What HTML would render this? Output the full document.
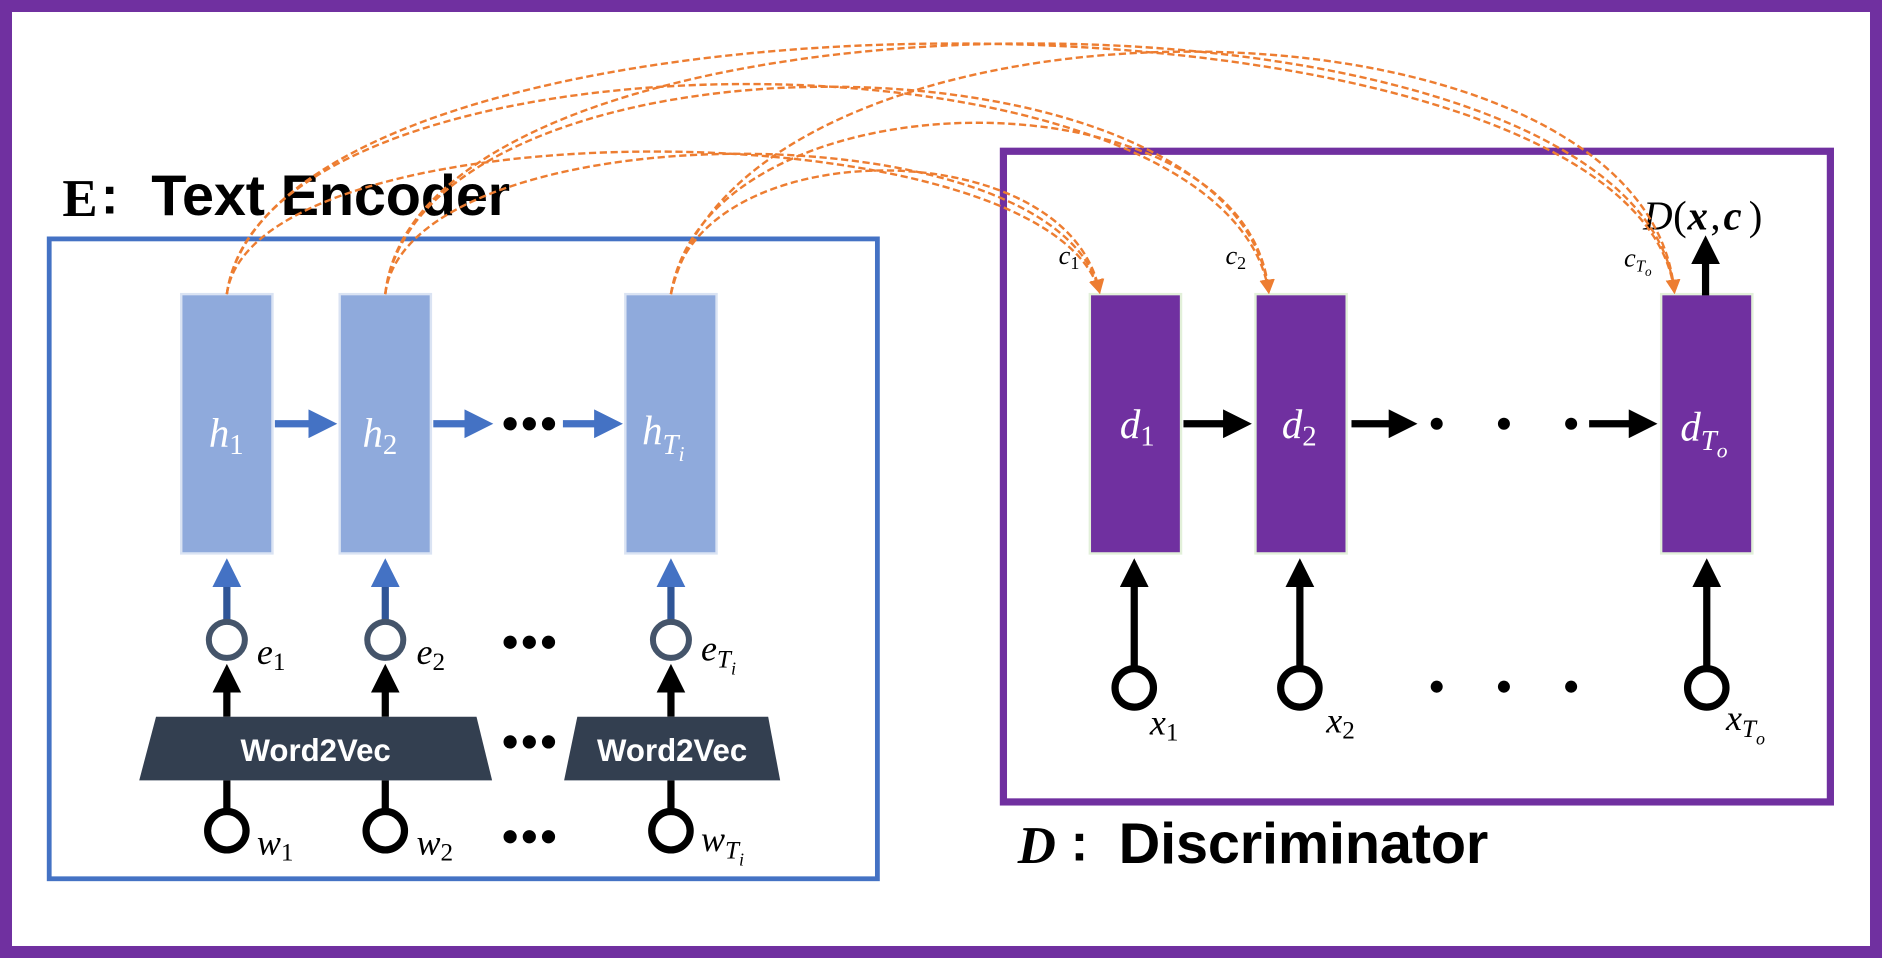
<!DOCTYPE html>
<html><head><meta charset="utf-8"><style>html,body{margin:0;padding:0;background:#fff}svg{display:block}</style></head><body>
<svg width="1882" height="958" viewBox="0 0 1568 798" preserveAspectRatio="none" xmlns="http://www.w3.org/2000/svg">
<defs>
<marker id="ab" markerWidth="4" markerHeight="4" refX="2.5" refY="2" orient="auto"><path d="M0,0 L4,2 L0,4 z" fill="#4472C4"/></marker>
<marker id="abk" markerWidth="4" markerHeight="4" refX="2.5" refY="2" orient="auto"><path d="M0,0 L4,2 L0,4 z" fill="#000"/></marker>
<marker id="ao" markerWidth="6" markerHeight="6" refX="5" refY="3" orient="auto"><path d="M0,0 L6,3 L0,6 z" fill="#ED7D31"/></marker>
</defs>
<rect x="5" y="5" width="1558" height="788" fill="#fff" stroke="#7030A0" stroke-width="10"/>
<rect x="41" y="199" width="690" height="533" fill="none" stroke="#4472C4" stroke-width="4"/>
<rect x="836" y="126" width="689" height="542" fill="none" stroke="#7030A0" stroke-width="6"/>
<text x="52" y="180" font-family="Liberation Serif,serif" font-weight="bold" font-size="44">E</text>
<text x="84" y="178" font-family="Liberation Sans,sans-serif" font-weight="bold" font-size="44">:</text>
<text x="126" y="179" font-family="Liberation Sans,sans-serif" font-weight="bold" font-size="48" textLength="299">Text Encoder</text>
<text x="848" y="719" font-family="Liberation Serif,serif" font-style="italic" font-weight="bold" font-size="44">D</text>
<text x="892" y="717" font-family="Liberation Sans,sans-serif" font-weight="bold" font-size="44">:</text>
<text x="932" y="719" font-family="Liberation Sans,sans-serif" font-weight="bold" font-size="48" textLength="308">Discriminator</text>
<g fill="#8FAADC" stroke="#DAE3F3" stroke-width="2">
<rect x="151" y="245" width="76" height="216"/><rect x="283" y="245" width="76" height="216"/><rect x="521" y="245" width="76" height="216"/></g>
<g fill="#fff" font-family="Liberation Serif,serif" font-style="italic" font-size="34">
<text x="174" y="372">h<tspan font-size="24" font-style="normal" dy="6">1</tspan></text>
<text x="302" y="372">h<tspan font-size="24" font-style="normal" dy="6">2</tspan></text>
<text x="535" y="370">h<tspan font-size="24" dy="8">T</tspan><tspan font-size="18" dy="6">i</tspan></text></g>
<g stroke="#4472C4" stroke-width="6" marker-end="url(#ab)">
<line x1="229" y1="353" x2="272" y2="353"/><line x1="361" y1="353" x2="402" y2="353"/><line x1="469" y1="353" x2="510" y2="353"/></g>
<g stroke="#2F5597" stroke-width="6" marker-end="url(#ab)">
<line x1="189" y1="516" x2="189" y2="474"/><line x1="321" y1="516" x2="321" y2="474"/><line x1="559" y1="516" x2="559" y2="474"/></g>
<g fill="#000"><circle cx="425" cy="353" r="5.5"/><circle cx="441" cy="353" r="5.5"/><circle cx="457" cy="353" r="5.5"/>
<circle cx="425" cy="535" r="5.5"/><circle cx="441" cy="535" r="5.5"/><circle cx="457" cy="535" r="5.5"/>
<circle cx="425" cy="618" r="5.5"/><circle cx="441" cy="618" r="5.5"/><circle cx="457" cy="618" r="5.5"/>
<circle cx="425" cy="697" r="5.5"/><circle cx="441" cy="697" r="5.5"/><circle cx="457" cy="697" r="5.5"/></g>
<g fill="#fff" stroke="#44546A" stroke-width="5"><circle cx="189" cy="533" r="15"/><circle cx="321" cy="533" r="15"/><circle cx="559" cy="533" r="15"/></g>
<g font-family="Liberation Serif,serif" font-style="italic" font-size="30">
<text x="214" y="553">e<tspan font-size="21" font-style="normal" dy="5">1</tspan></text>
<text x="347" y="553">e<tspan font-size="21" font-style="normal" dy="5">2</tspan></text>
<text x="584" y="550">e<tspan font-size="21" dy="6">T</tspan><tspan font-size="15" dy="6">i</tspan></text>
<text x="214" y="712">w<tspan font-size="21" font-style="normal" dy="5">1</tspan></text>
<text x="347" y="712">w<tspan font-size="21" font-style="normal" dy="5">2</tspan></text>
<text x="584" y="709">w<tspan font-size="21" dy="6">T</tspan><tspan font-size="15" dy="6">i</tspan></text></g>
<g stroke="#000" stroke-width="6" marker-end="url(#abk)">
<line x1="189" y1="597" x2="189" y2="562"/><line x1="321" y1="597" x2="321" y2="562"/><line x1="559" y1="597" x2="559" y2="562"/></g>
<g stroke="#000" stroke-width="6"><line x1="189" y1="676" x2="189" y2="650"/><line x1="321" y1="676" x2="321" y2="650"/><line x1="559" y1="676" x2="559" y2="650"/></g>
<path d="M130 597 L397 597 L410 650 L116 650 Z" fill="#333F50"/>
<path d="M481 597 L640 597 L650 650 L470 650 Z" fill="#333F50"/>
<g fill="#fff" font-family="Liberation Sans,sans-serif" font-weight="bold" font-size="26" text-anchor="middle">
<text x="263" y="634">Word2Vec</text><text x="560" y="634">Word2Vec</text></g>
<g fill="#fff" stroke="#000" stroke-width="6"><circle cx="189" cy="692" r="16"/><circle cx="321" cy="692" r="16"/><circle cx="559" cy="692" r="16"/></g>
<g fill="#7030A0" stroke="#E2F0D9" stroke-width="2">
<rect x="908" y="245" width="76" height="216"/><rect x="1046" y="245" width="76" height="216"/><rect x="1384" y="245" width="76" height="216"/></g>
<g fill="#fff" font-family="Liberation Serif,serif" font-style="italic" font-size="34">
<text x="933" y="365">d<tspan font-size="24" font-style="normal" dy="6">1</tspan></text>
<text x="1068" y="365">d<tspan font-size="24" font-style="normal" dy="6">2</tspan></text>
<text x="1400" y="367">d<tspan font-size="24" dy="8">T</tspan><tspan font-size="18" dy="6">o</tspan></text></g>
<g stroke="#000" stroke-width="6" marker-end="url(#abk)">
<line x1="986" y1="353" x2="1034" y2="353"/><line x1="1126" y1="353" x2="1172" y2="353"/><line x1="1324" y1="353" x2="1372" y2="353"/>
<line x1="945" y1="555" x2="945" y2="474"/><line x1="1083" y1="555" x2="1083" y2="474"/><line x1="1422" y1="555" x2="1422" y2="474"/>
<line x1="1421" y1="246" x2="1421" y2="205"/></g>
<g fill="#000"><circle cx="1197" cy="353" r="5"/><circle cx="1253" cy="353" r="5"/><circle cx="1309" cy="353" r="5"/>
<circle cx="1197" cy="572" r="5"/><circle cx="1253" cy="572" r="5"/><circle cx="1309" cy="572" r="5"/></g>
<g fill="#fff" stroke="#000" stroke-width="6"><circle cx="945" cy="573" r="16"/><circle cx="1083" cy="573" r="16"/><circle cx="1422" cy="573" r="16"/></g>
<g font-family="Liberation Serif,serif" font-style="italic" font-size="30">
<text x="958" y="612">x<tspan font-size="21" font-style="normal" dy="5">1</tspan></text>
<text x="1105" y="610">x<tspan font-size="21" font-style="normal" dy="5">2</tspan></text>
<text x="1438" y="608">x<tspan font-size="21" dy="6">T</tspan><tspan font-size="15" dy="6">o</tspan></text>
</g>
<g font-family="Liberation Serif,serif" font-style="italic" font-size="34">
<text x="1369" y="191">D</text>
<text x="1394" y="191" font-style="normal">(</text><text x="1406" y="191" font-weight="bold">x</text><text x="1425" y="191" font-style="normal">,</text><text x="1436" y="191" font-weight="bold">c</text><text x="1457" y="191" font-style="normal">)</text>
</g>
<g font-family="Liberation Serif,serif" font-style="italic" font-size="22">
<text x="882" y="220">c<tspan font-size="15" font-style="normal" dy="4">1</tspan></text>
<text x="1021" y="220">c<tspan font-size="15" font-style="normal" dy="4">2</tspan></text>
<text x="1353" y="222">c<tspan font-size="14" dy="4">T</tspan><tspan font-size="11" dy="4">o</tspan></text></g>
<g fill="none" stroke="#ED7D31" stroke-width="2" stroke-dasharray="6,3" marker-end="url(#ao)">
<path d="M189 245 C210 87, 870 87, 916 243"/>
<path d="M321 245 C340 92, 880 87, 916 243"/>
<path d="M559 245 C580 108, 890 108, 916 243"/>
<path d="M189 245 C220 12, 1020 12, 1057 243"/>
<path d="M321 245 C350 15, 1030 15, 1057 243"/>
<path d="M559 245 C590 55, 1040 55, 1057 243"/>
<path d="M189 245 C230 -33, 1360 -33, 1395 243"/>
<path d="M321 245 C350 -33, 1365 -33, 1395 243"/>
<path d="M559 245 C620 -24, 1370 -24, 1395 243"/>
</g>
</svg>
</body></html>
